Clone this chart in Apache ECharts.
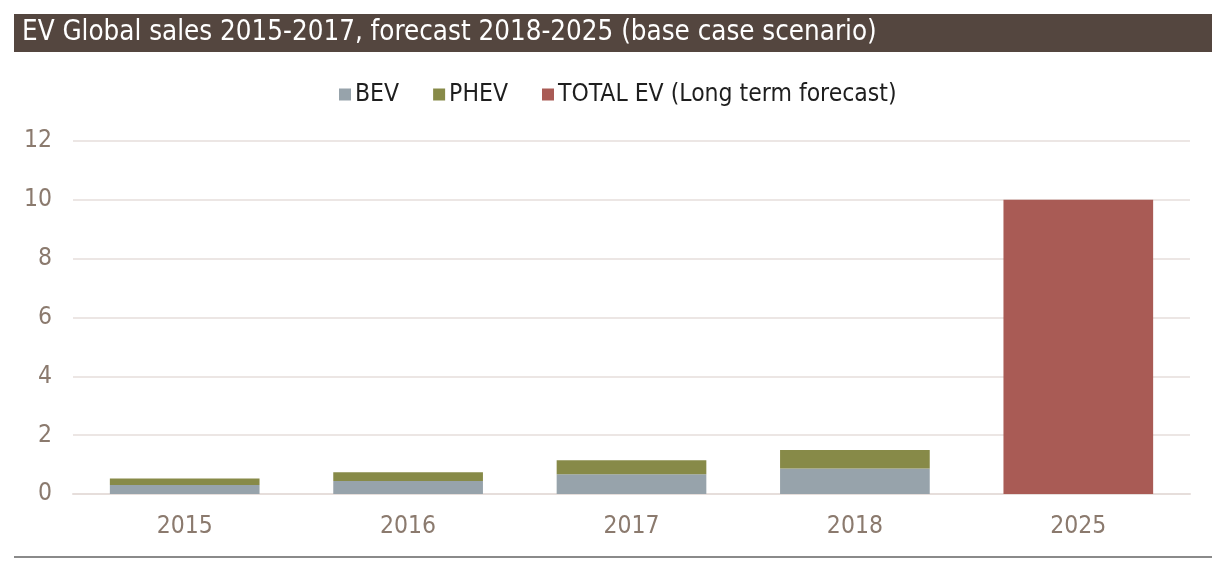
<!DOCTYPE html>
<html><head><meta charset="utf-8">
<script src="https://cdn.jsdelivr.net/npm/echarts@6/dist/echarts.min.js"></script>
<style>html,body{margin:0;padding:0;background:#fff}#c{width:1217px;height:563px}</style>
</head><body><div id="c"></div>
<script>
const categories = ['2015', '2016', '2017', '2018', '2025'];
const bev = [0.31, 0.44, 0.67, 0.87, null];
const phev = [0.22, 0.30, 0.48, 0.63, null];
const totalEv = [null, null, null, null, 10];
const seriesNames = ['BEV', 'PHEV', 'TOTAL EV (Long term forecast)'];
const titleText = 'EV Global sales 2015-2017, forecast 2018-2025 (base case scenario)';

const FONT = "'Liberation Sans Narrow', 'Arial Narrow', 'DejaVu Sans Condensed', sans-serif";
const chart = echarts.init(document.getElementById('c'), null, {renderer: 'canvas'});
chart.setOption({
  backgroundColor: '#ffffff',
  animation: false,
  textStyle: {fontFamily: FONT},
  graphic: [
    {type: 'rect', shape: {x: 14, y: 14, width: 1198, height: 38}, style: {fill: '#54463f'}, z: 0},
    {type: 'text', x: 22, y: 33, style: {text: titleText, fill: '#ffffff', font: '27.5px ' + FONT, textVerticalAlign: 'middle'}, z: 1},
    {type: 'line', shape: {x1: 14, y1: 557, x2: 1212, y2: 557}, style: {stroke: '#8a8a8a', lineWidth: 2}}
  ],
  legend: {
    top: 77, left: 334,
    itemWidth: 12, itemHeight: 12, itemGap: 34,
    icon: 'rect',
    textStyle: {fontFamily: FONT, fontSize: 24.5, color: '#1e1e1e', padding: [0, 0, 0, -1]},
    data: seriesNames
  },
  grid: {left: 73, right: 27, top: 141, bottom: 69},
  xAxis: {
    type: 'category', data: categories,
    axisLine: {lineStyle: {color: '#e6dedb', width: 2}},
    axisTick: {show: false},
    axisLabel: {fontFamily: FONT, fontSize: 24.5, color: '#8b7a6e', margin: 20}
  },
  yAxis: {
    type: 'value', min: 0, max: 12, interval: 2,
    axisLine: {show: false}, axisTick: {show: false},
    splitLine: {lineStyle: {color: '#ece6e4', width: 2}},
    axisLabel: {fontFamily: FONT, fontSize: 24.5, color: '#8b7a6e', margin: 21}
  },
  series: [
    {name: seriesNames[0], type: 'bar', stack: 's', data: bev, barWidth: '67%', itemStyle: {color: '#97a3ab'}},
    {name: seriesNames[1], type: 'bar', stack: 's', data: phev, itemStyle: {color: '#878a48'}},
    {name: seriesNames[2], type: 'bar', stack: 's', data: totalEv, itemStyle: {color: '#a95b55'}}
  ]
});
</script></body></html>
